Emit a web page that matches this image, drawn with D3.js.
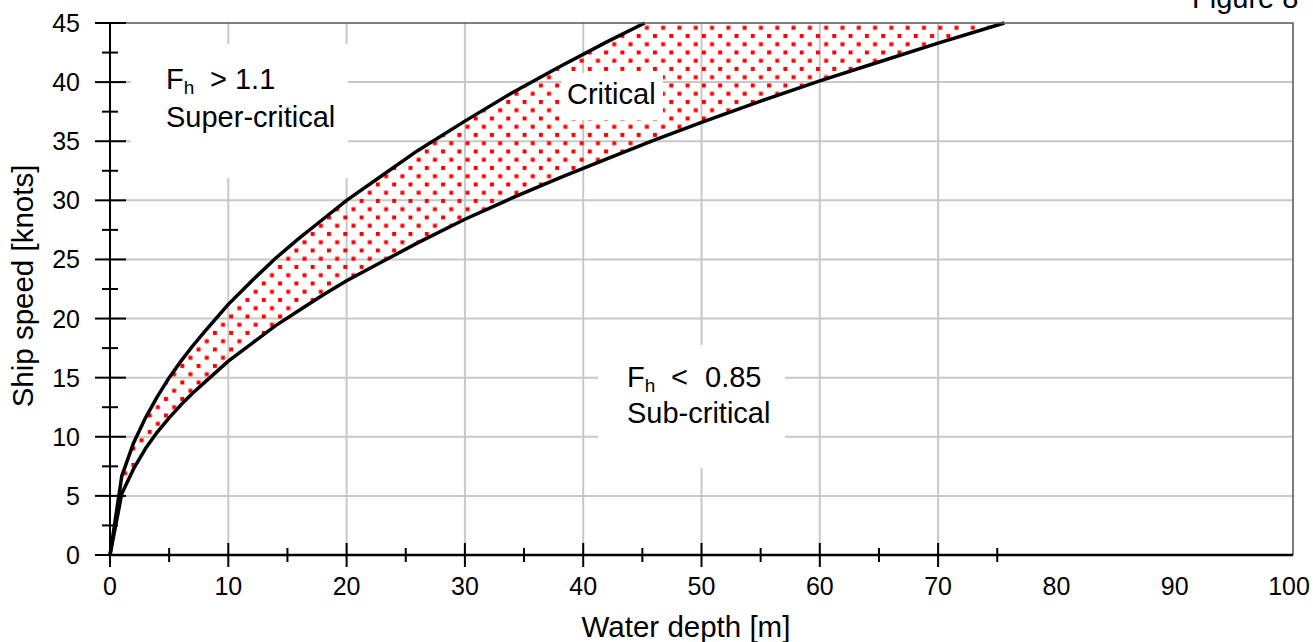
<!DOCTYPE html>
<html>
<head>
<meta charset="utf-8">
<script src="https://cdn.jsdelivr.net/npm/d3@7"></script>
<style>
  html, body { margin: 0; padding: 0; background: #fff; }
  svg { display: block; font-family: "Liberation Sans", Arial, sans-serif; }
</style>
</head>
<body>
<div id="chart_container"></div>
<script>
// Fh = 1.1 boundary (upper curve)
const upper_depth = [0, 1, 2, 3, 4, 5, 6, 7, 8, 10, 12, 14, 16, 18, 20, 23, 26, 30, 34, 38, 42, 45.2];
const upper_speed = [0, 6.7, 9.5, 11.6, 13.4, 15.0, 16.4, 17.7, 18.9, 21.2, 23.2, 25.1, 26.8, 28.4, 30.0, 32.1, 34.2, 36.7, 39.1, 41.3, 43.4, 45.0];

// Fh = 0.85 boundary (lower curve)
const lower_depth = [0, 1, 2, 3, 4, 5, 6, 7, 8, 10, 12, 14, 16, 18, 20, 23, 26, 30, 34, 38, 42, 46, 50, 55, 60, 65, 70, 75.6];
const lower_speed = [0, 5.2, 7.3, 9.0, 10.4, 11.6, 12.7, 13.7, 14.6, 16.4, 17.9, 19.4, 20.7, 22.0, 23.2, 24.8, 26.4, 28.4, 30.2, 31.9, 33.5, 35.1, 36.6, 38.4, 40.1, 41.7, 43.3, 45.0];

const x_major_ticks = [0, 10, 20, 30, 40, 50, 60, 70];
const x_minor_ticks = [5, 15, 25, 35, 45, 55, 65, 75];
const x_tick_labels = [0, 10, 20, 30, 40, 50, 60, 70, 80, 90, 100];
const x_grid = [10, 20, 30, 40, 50, 60, 70];
const y_major_ticks = [0, 5, 10, 15, 20, 25, 30, 35, 40, 45];
const y_minor_ticks = [2.5, 7.5, 12.5, 17.5, 22.5, 27.5, 32.5, 37.5, 42.5];
const y_grid = [5, 10, 15, 20, 25, 30, 35, 40];

const svg_width = 1313;
const svg_height = 642;
const margin = {left: 110, right: 20, top: 23, bottom: 87};
const axes_color = '#000';
const grid_color = '#c8c8c8';

const svg = d3.select('#chart_container').append('svg')
    .attr('width', svg_width)
    .attr('height', svg_height);

const x_scale = d3.scaleLinear().domain([0, 100]).range([margin.left, svg_width - margin.right]);
const y_scale = d3.scaleLinear().domain([0, 45]).range([svg_height - margin.bottom, margin.top]);

// dotted fill for the critical band
const pattern = svg.append('defs').append('pattern')
    .attr('id', 'dots')
    .attr('patternUnits', 'userSpaceOnUse')
    .attr('x', 1).attr('y', 1)
    .attr('width', 16.3)
    .attr('height', 16.5);
pattern.append('rect').attr('x', 0).attr('y', 0).attr('width', 4).attr('height', 4).attr('fill', '#ff0000');
pattern.append('rect').attr('x', 8.15).attr('y', 8.25).attr('width', 4).attr('height', 4).attr('fill', '#ff0000');

// gridlines
svg.append('g').selectAll('line')
    .data(y_grid)
    .enter().append('line')
    .attr('x1', x_scale(0)).attr('x2', x_scale(100))
    .attr('y1', d => y_scale(d)).attr('y2', d => y_scale(d))
    .attr('stroke', grid_color).attr('stroke-width', 2);

svg.append('g').selectAll('line')
    .data(x_grid)
    .enter().append('line')
    .attr('x1', d => x_scale(d)).attr('x2', d => x_scale(d))
    .attr('y1', y_scale(0)).attr('y2', y_scale(45))
    .attr('stroke', grid_color).attr('stroke-width', 2);

// band between the two curves
const upper_pts = upper_depth.map((d, i) => [d, upper_speed[i]]);
const lower_pts = lower_depth.map((d, i) => [d, lower_speed[i]]);
const band_pts = upper_pts.concat(lower_pts.slice().reverse());

svg.append('path')
    .datum(band_pts)
    .attr('d', d3.line().x(d => x_scale(d[0])).y(d => y_scale(d[1])))
    .attr('fill', 'url(#dots)')
    .attr('stroke', 'none');

// white boxes behind the labels
const label_boxes = [
    {x0: 131, y0: 44, x1: 348, y1: 178},
    {x0: 562, y0: 73, x1: 663, y1: 120},
    {x0: 598, y0: 345, x1: 785, y1: 468}
];
svg.append('g').selectAll('rect')
    .data(label_boxes)
    .enter().append('rect')
    .attr('x', d => d.x0).attr('y', d => d.y0)
    .attr('width', d => d.x1 - d.x0).attr('height', d => d.y1 - d.y0)
    .attr('fill', '#fff');

// curves
const curve_line = d3.line().x(d => x_scale(d[0])).y(d => y_scale(d[1]));
[upper_pts, lower_pts].forEach(pts => {
    svg.append('path')
        .datum(pts)
        .attr('d', curve_line)
        .attr('fill', 'none')
        .attr('stroke', '#000')
        .attr('stroke-width', 3.5)
        .attr('stroke-linejoin', 'round');
});

// frame (top and right)
svg.append('path')
    .attr('d', `M${x_scale(0)},${y_scale(45)}H${x_scale(100)}V${y_scale(0)}`)
    .attr('fill', 'none')
    .attr('stroke', '#555')
    .attr('stroke-width', 1.5);

// axes lines
svg.append('line')
    .attr('x1', x_scale(0)).attr('x2', x_scale(100))
    .attr('y1', y_scale(0)).attr('y2', y_scale(0))
    .attr('stroke', axes_color).attr('stroke-width', 2.5);
svg.append('line')
    .attr('x1', x_scale(0)).attr('x2', x_scale(0))
    .attr('y1', y_scale(0)).attr('y2', y_scale(45))
    .attr('stroke', axes_color).attr('stroke-width', 2);

// ticks
svg.append('g').selectAll('line')
    .data(y_major_ticks)
    .enter().append('line')
    .attr('x1', x_scale(0) - 15).attr('x2', x_scale(0) + 16)
    .attr('y1', d => y_scale(d)).attr('y2', d => y_scale(d))
    .attr('stroke', axes_color).attr('stroke-width', 2);
svg.append('g').selectAll('line')
    .data(y_minor_ticks)
    .enter().append('line')
    .attr('x1', x_scale(0) - 8).attr('x2', x_scale(0) + 8)
    .attr('y1', d => y_scale(d)).attr('y2', d => y_scale(d))
    .attr('stroke', axes_color).attr('stroke-width', 2);
svg.append('g').selectAll('line')
    .data(x_major_ticks)
    .enter().append('line')
    .attr('x1', d => x_scale(d)).attr('x2', d => x_scale(d))
    .attr('y1', y_scale(0) - 12).attr('y2', y_scale(0) + 12)
    .attr('stroke', axes_color).attr('stroke-width', 2);
svg.append('g').selectAll('line')
    .data(x_minor_ticks)
    .enter().append('line')
    .attr('x1', d => x_scale(d)).attr('x2', d => x_scale(d))
    .attr('y1', y_scale(0) - 7).attr('y2', y_scale(0) + 7)
    .attr('stroke', axes_color).attr('stroke-width', 2);

// tick labels
svg.append('g').selectAll('text')
    .data(y_major_ticks)
    .enter().append('text')
    .attr('x', 80)
    .attr('y', d => y_scale(d))
    .attr('dy', '0.36em')
    .style('text-anchor', 'end')
    .style('font-size', '25px')
    .style('fill', axes_color)
    .text(d => d);
svg.append('g').selectAll('text')
    .data(x_tick_labels)
    .enter().append('text')
    .attr('x', d => x_scale(d) - (d === 100 ? 4 : 0))
    .attr('y', 595)
    .style('text-anchor', 'middle')
    .style('font-size', '25px')
    .style('fill', axes_color)
    .text(d => d);

// axis titles
svg.append('text')
    .attr('x', 686).attr('y', 637)
    .style('text-anchor', 'middle')
    .style('font-size', '29.5px')
    .text('Water depth [m]');
svg.append('text')
    .attr('transform', 'translate(33,286)rotate(-90)')
    .style('text-anchor', 'middle')
    .style('font-size', '29.5px')
    .text('Ship speed [knots]');

svg.append('text')
    .attr('x', 1192).attr('y', 8)
    .style('font-size', '29px')
    .text('Figure 8');

// annotations: F subscript h, then each remaining piece at its own x
function froude_label(x, y, pieces) {
    const t = svg.append('text').attr('y', y).style('font-size', '29px');
    t.append('tspan').attr('x', x).text('F');
    t.append('tspan').attr('dy', 5).style('font-size', '19px').text('h');
    pieces.forEach((p, i) => {
        t.append('tspan').attr('x', p.x).attr('dy', i === 0 ? -5 : 0).text(p.text);
    });
}
froude_label(166, 89, [{x: 210, text: '> 1.1'}]);
svg.append('text').attr('x', 166).attr('y', 127).style('font-size', '29px').text('Super-critical');

svg.append('text').attr('x', 567).attr('y', 104).style('font-size', '29px').text('Critical');

froude_label(627, 387, [{x: 671, text: '<'}, {x: 705, text: '0.85'}]);
svg.append('text').attr('x', 627).attr('y', 423).style('font-size', '29px').text('Sub-critical');
</script>
</body>
</html>
